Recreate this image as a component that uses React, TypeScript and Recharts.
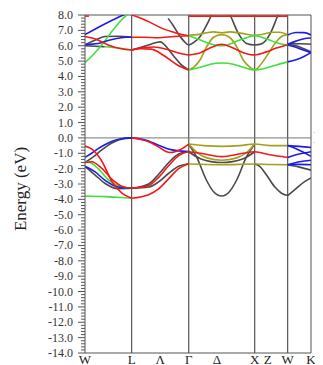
import { ComposedChart, Line, XAxis, YAxis, ReferenceLine } from 'recharts';

// k-path positions (2π/a units) of the high-symmetry points W-L-Γ-X-W-K
const kW = 0;
const kL = 0.707;
const kG = 1.573;
const kX = 2.573;
const kW2 = 3.073;
const kK = 3.427;

const kTickPos = [kW, kL, 1.14, kG, 2.0, kX, 2.77, kW2, kK];
const kTickNames = ['W', 'L', 'Λ', 'Γ', 'Δ', 'X', 'Z', 'W', 'K'];
const symLines = [kL, kG, kX, kW2];

type Pt = [number, number];

const blackBands: Pt[][] = [
  // conduction
  [[0, 6.05], [0.15, 6.35], [0.3, 6.6], [0.5, 6.62], [0.707, 6.55]],
  [[0, 6.0], [0.15, 5.97], [0.3, 5.93]],
  [[1.26, 7.78], [1.34, 7.3], [1.41, 6.8], [1.5, 6.3], [1.573, 6.05], [1.66, 6.25], [1.743, 6.59], [1.845, 7.35], [1.92, 8.0], [1.97, 8.4]],
  [[0.707, 5.72], [0.85, 5.9], [1.0, 6.1], [1.14, 6.25], [1.25, 5.85], [1.35, 5.3], [1.45, 4.8], [1.573, 4.42]],
  [[2.15, 8.4], [2.2, 8.0], [2.325, 6.8], [2.45, 6.15], [2.573, 6.05], [2.69, 6.15], [2.81, 6.8], [2.93, 8.0], [2.98, 8.4]],
  [[3.073, 6.12], [3.25, 6.13], [3.427, 6.1]],
  [[3.073, 6.08], [3.2, 6.0], [3.32, 5.8], [3.427, 5.6]],
  // valence
  [[0, -1.6], [0.12, -1.25], [0.25, -0.8], [0.4, -0.35], [0.55, -0.08], [0.707, 0]],
  [[0, -1.85], [0.15, -2.4], [0.3, -2.95], [0.5, -3.3], [0.707, -3.28]],
  [[0.707, -3.28], [0.965, -3.0], [1.12, -2.35], [1.27, -1.6], [1.42, -1.05], [1.573, -0.88]],
  [[0.707, -3.28], [0.965, -3.2], [1.12, -2.85], [1.27, -2.3], [1.42, -1.85], [1.573, -1.68]],
  [[1.573, -0.42], [1.69, -1.22], [1.84, -2.74], [1.95, -3.5], [2.073, -3.78], [2.19, -3.5], [2.3, -2.74], [2.45, -1.22], [2.573, -0.42]],
  [[1.573, -0.9], [1.75, -1.35], [2.073, -1.6], [2.4, -1.35], [2.573, -0.9]],
  [[2.573, -1.7], [2.65, -1.85], [2.75, -2.4], [2.88, -3.2], [2.98, -3.6], [3.073, -3.75]],
  [[3.073, -1.75], [3.25, -1.9], [3.427, -2.1]],
  [[3.073, -3.75], [3.2, -3.3], [3.33, -2.85], [3.427, -2.6]],
];

const oliveBands: Pt[][] = [
  [[1.573, 6.68], [1.7, 6.72], [1.85, 6.85], [1.95, 6.9], [2.073, 6.84], [2.2, 6.9], [2.35, 6.82], [2.573, 6.68], [2.7, 6.75], [2.85, 6.88], [2.95, 6.88], [3.073, 6.72]],
  [[1.573, 4.42], [1.65, 4.6], [1.743, 5.07], [1.845, 5.94], [1.95, 6.55], [2.073, 6.72], [2.19, 6.55], [2.3, 5.94], [2.4, 5.07], [2.5, 4.6], [2.573, 4.42], [2.65, 4.7], [2.75, 5.29], [2.9, 6.26], [3.0, 6.65], [3.073, 6.72]],
  [[1.573, -0.4], [1.8, -0.5], [2.073, -0.55], [2.35, -0.5], [2.573, -0.4], [2.8, -0.5], [3.073, -0.5]],
  [[1.573, -0.4], [1.7, -0.95], [1.85, -1.3], [2.073, -1.45], [2.3, -1.3], [2.45, -0.95], [2.573, -0.4]],
  [[1.573, -1.7], [2.073, -1.75], [2.573, -1.7], [2.8, -1.73], [3.073, -1.75]],
];

const greenBands: Pt[][] = [
  [[0, 4.9], [0.12, 5.4], [0.27, 6.15], [0.42, 7.0], [0.58, 7.8], [0.707, 8.2]],
  [[0.3, 5.93], [0.5, 5.85], [0.707, 5.72]],
  [[1.573, 6.65], [1.7, 6.45], [1.85, 6.2], [2.0, 6.02], [2.1, 6.0], [2.25, 6.2], [2.4, 6.45], [2.573, 6.65], [2.75, 6.45], [2.9, 6.2], [3.073, 6.05]],
  [[1.573, 4.42], [1.75, 4.6], [1.9, 4.8], [2.073, 4.88], [2.25, 4.8], [2.4, 4.6], [2.573, 4.42], [2.75, 4.55], [2.9, 4.75], [3.073, 4.95]],
  [[0, -1.55], [0.1, -1.65], [0.2, -2.0], [0.36, -2.75], [0.56, -3.2], [0.707, -3.28]],
  [[0, -3.78], [0.3, -3.82], [0.55, -3.88], [0.707, -3.93]],
];

const blueBands: Pt[][] = [
  [[0, 6.72], [0.27, 7.35], [0.53, 7.9], [0.63, 8.1], [0.707, 8.3]],
  [[0, 6.08], [0.2, 6.15], [0.38, 6.37], [0.55, 6.52], [0.707, 6.57]],
  [[3.073, 6.7], [3.2, 6.86], [3.32, 6.85], [3.427, 6.7]],
  [[3.073, 6.1], [3.2, 6.3], [3.32, 6.45], [3.427, 6.5]],
  [[3.073, 6.05], [3.2, 5.9], [3.32, 5.7], [3.427, 5.55]],
  [[3.073, 4.95], [3.2, 5.08], [3.32, 5.3], [3.427, 5.55]],
  [[0, -1.27], [0.1, -1.0], [0.2, -0.7], [0.3, -0.45], [0.42, -0.2], [0.55, -0.05], [0.707, 0]],
  [[0.707, 0], [0.85, -0.08], [0.965, -0.2], [1.1, -0.45], [1.25, -0.7], [1.4, -0.83], [1.573, -0.88]],
  [[0, -1.85], [0.15, -2.2], [0.3, -2.75], [0.5, -3.2], [0.707, -3.28]],
  [[3.073, -0.5], [3.25, -0.55], [3.427, -0.62]],
  [[3.073, -0.5], [3.25, -0.8], [3.427, -1.2]],
  [[3.073, -1.27], [3.25, -1.05], [3.427, -0.9]],
  [[3.073, -1.75], [3.25, -1.55], [3.427, -1.45]],
  [[3.073, -1.75], [3.25, -1.72], [3.427, -1.75]],
];

const redBands: Pt[][] = [
  [[0, 7.93], [0.06, 7.93]],
  [[0, 6.6], [0.15, 6.45], [0.35, 6.05], [0.55, 5.8], [0.707, 5.72]],
  [[0.707, 8.0], [0.82, 7.84], [0.965, 7.57], [1.17, 7.13], [1.37, 6.85], [1.573, 6.65]],
  [[0.707, 6.55], [0.9, 6.55], [1.1, 6.52], [1.35, 6.6], [1.573, 6.65]],
  [[0.707, 5.72], [0.9, 5.88], [1.05, 5.92], [1.25, 5.75], [1.45, 5.5], [1.573, 5.4]],
  [[0.707, 5.72], [0.85, 5.8], [1.0, 5.78], [1.2, 5.35], [1.4, 4.75], [1.573, 4.42]],
  [[1.573, 5.4], [1.75, 5.55], [1.92, 5.9], [2.073, 6.1], [2.22, 5.9], [2.4, 5.55], [2.573, 5.4], [2.75, 5.6], [2.9, 5.85], [3.073, 6.05]],
  [[1.573, 7.93], [3.073, 7.93]],
  [[0, -0.53], [0.1, -0.72], [0.26, -1.55], [0.41, -2.85], [0.56, -3.6], [0.707, -3.93]],
  [[0, -1.6], [0.1, -1.55], [0.26, -2.0], [0.41, -2.7], [0.56, -3.15], [0.707, -3.28]],
  [[0.707, 0], [0.85, -0.1], [0.965, -0.25], [1.1, -0.55], [1.29, -0.95], [1.45, -0.75], [1.573, -0.4]],
  [[0.707, -3.28], [0.965, -3.1], [1.12, -2.55], [1.27, -1.8], [1.42, -1.15], [1.573, -0.88]],
  [[0.707, -3.93], [0.965, -3.7], [1.12, -3.3], [1.27, -2.65], [1.42, -2.0], [1.573, -1.68]],
  [[1.573, -0.9], [1.75, -1.0], [2.073, -1.22], [2.4, -1.0], [2.573, -0.9], [2.8, -1.1], [3.073, -1.27]],
];

const bandGroups: { color: string; bands: Pt[][] }[] = [
  { color: '#4a4a4a', bands: blackBands },
  { color: '#a69e1e', bands: oliveBands },
  { color: '#3de03d', bands: greenBands },
  { color: '#1c1ce6', bands: blueBands },
  { color: '#f41818', bands: redBands },
];

// minor ticks every 0.2 eV, labels on whole numbers
const yTicks = Array.from({ length: 111 }, (_, i) => Math.round((-14 + i * 0.2) * 10) / 10);

const FONT = '"Liberation Serif", "Times New Roman", serif';
const FRAME = '#555';
const PLOT_LEFT = 77;

const toPts = (band: Pt[]) => band.map(([k, e]) => ({ k, e }));

const YTick = (props: any) => {
  const { y, payload } = props;
  const v = payload.value;
  const major = Math.abs(v - Math.round(v)) < 1e-6;
  return (
    <g>
      <line x1={PLOT_LEFT - (major ? 7 : 4)} x2={PLOT_LEFT} y1={y} y2={y} stroke={FRAME} strokeWidth={1} />
      {major && (
        <text x={PLOT_LEFT - 12} y={y} textAnchor="end" dominantBaseline="central" fontFamily={FONT} fontSize={12} fill="#333">
          {v.toFixed(1)}
        </text>
      )}
    </g>
  );
};

const KTick = (props: any) => {
  const { x, payload } = props;
  const idx = kTickPos.indexOf(payload.value);
  return (
    <text x={x} y={356} textAnchor="middle" fontFamily={FONT} fontSize={13} fill="#222">
      {kTickNames[idx]}
    </text>
  );
};

export default function App() {
  return (
    <div style={{ width: 315, height: 357 }}>
      <ComposedChart width={315} height={357} margin={{ top: 7, right: 12, bottom: 0, left: 0 }}>
        <XAxis
          type="number"
          dataKey="k"
          domain={[kW, kK]}
          allowDataOverflow
          ticks={kTickPos}
          interval={0}
          height={12}
          tickLine={false}
          axisLine={{ stroke: FRAME }}
          tick={<KTick />}
        />
        <YAxis
          type="number"
          dataKey="e"
          domain={[-14, 8]}
          allowDataOverflow
          ticks={yTicks}
          interval={0}
          width={PLOT_LEFT}
          tickLine={false}
          axisLine={{ stroke: FRAME }}
          tick={<YTick />}
          label={{
            content: () => (
              <text
                x={12}
                y={181}
                transform="rotate(-90 12 181)"
                textAnchor="middle"
                dominantBaseline="central"
                fontFamily={FONT}
                fontSize={17}
                fill="#222"
              >
                Energy (eV)
              </text>
            ),
          }}
        />
        <ReferenceLine y={8} stroke={FRAME} strokeWidth={1} />
        <ReferenceLine x={kK} stroke={FRAME} strokeWidth={1} />
        {symLines.map((k) => (
          <ReferenceLine key={k} x={k} stroke={FRAME} strokeWidth={1.2} />
        ))}
        <ReferenceLine
          y={0}
          stroke="#777"
          strokeWidth={1}
          label={{
            content: (p: any) => (
              <text x={p.viewBox.x + p.viewBox.width + 3} y={p.viewBox.y} dominantBaseline="central" fontFamily={FONT} fontSize={16} fill="#222">
                E<tspan fontSize={10} dy={4}>F</tspan>
              </text>
            ),
          }}
        />
        {bandGroups.map((g, gi) =>
          g.bands.map((band, bi) => (
            <Line
              key={`b-${gi}-${bi}`}
              data={toPts(band)}
              dataKey="e"
              type="monotone"
              stroke={g.color}
              strokeWidth={1.6}
              dot={false}
              activeDot={false}
              isAnimationActive={false}
            />
          ))
        )}
      </ComposedChart>
    </div>
  );
}
